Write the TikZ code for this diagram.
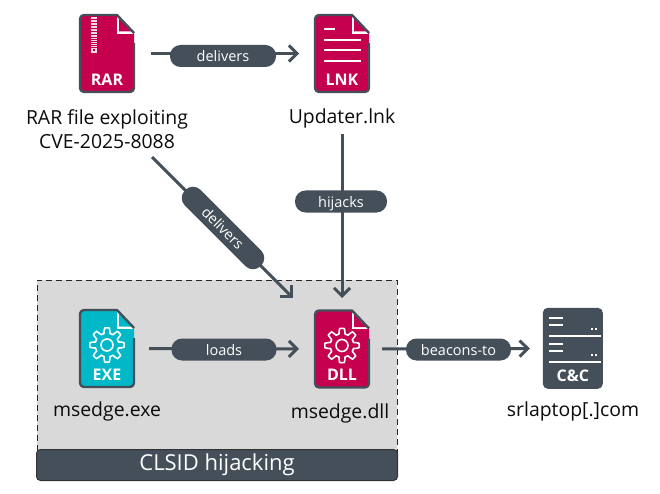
\documentclass[tikz,border=0pt]{standalone}
\usepackage{fontspec}
\setmainfont{Open Sans}
\usetikzlibrary{arrows.meta}
\definecolor{slate}{HTML}{444F5A}
\definecolor{crim}{HTML}{C5004F}
\definecolor{teal2}{HTML}{00B8C8}
\definecolor{boxgrey}{HTML}{D9D9D9}
\tikzset{
  x=1pt,y=-1pt,
  conn/.style={draw=slate,line width=3pt,-{Straight Barb[length=8pt,width=16pt,line width=3pt]}},
  pill/.style={fill=slate,text=white,rounded corners=10.5pt,minimum height=22pt,inner sep=0pt,font=\fontsize{14.5}{16}\selectfont,text depth=0pt,anchor=center},
  iconbox/.style={inner sep=0pt,outer sep=0pt,minimum width=54pt,minimum height=77pt},
  caption/.style={align=center,font=\fontsize{19.4}{24}\selectfont,text=black!85!slate,inner sep=0pt},
  icontext/.style={text=white,font=\fontsize{16}{16}\selectfont\bfseries,inner sep=0pt},
  white line/.style={draw=white,line width=1.7pt},
}
% #1 node name, #2 fill, #3 label, #4 extras
\newcommand\docicon[4]{%
  \begin{scope}[shift={(#1.north west)}]
    \path[fill=#2] (4,0) -- (37,0) -- (54,18) -- (54,73) arc[start angle=0,end angle=90,radius=4] -- (4,77) arc[start angle=90,end angle=180,radius=4] -- (0,4) arc[start angle=180,end angle=270,radius=4] -- cycle;
    \draw[white line] (37.5,1) -- (37.5,18) -- (53,18);
    \path[fill=white] (37,0) -- (54,18) -- (39,18) -- (38,17) -- cycle;
    \path[fill=#2] (39,2.5) -- (52,16.5) -- (39,16.5) -- cycle;
    \draw[slate,line width=2.4pt,line join=round] (54,28) -- (54,73) arc[start angle=0,end angle=90,radius=4] -- (4,77) arc[start angle=90,end angle=180,radius=4] -- (0,4) arc[start angle=180,end angle=270,radius=4] -- (37,0) -- (54,18);
    \node[icontext] at (27,64.5) {#3};
    #4
  \end{scope}}
\newcommand\gearicon{%
  \draw[white line,line width=1.6pt,line join=round] plot[domain=0:360,samples=193,variable=\t]
    ({27+(14.5+2.7*min(1,max(-1,2*cos(8*\t))))*cos(\t)},{35+(14.5+2.7*min(1,max(-1,2*cos(8*\t))))*sin(\t)}) -- cycle;
  \draw[white line,line width=1.6pt] (27,35) circle[radius=6];}
\begin{document}
\begin{tikzpicture}
\useasboundingbox (0,0) rectangle (660,494);
\fill[white] (0,0) rectangle (660,494);
% group
\node[draw=black!85,line width=1.2pt,fill=boxgrey,inner sep=0pt,minimum width=360pt,minimum height=175pt,anchor=north west,dash pattern=on 6pt off 4pt] (group) at (36.5,279.5) {};
\node[fill=slate,draw=black!80,line width=1pt,rounded corners=4pt,text=white,minimum width=361pt,minimum height=31pt,inner sep=0pt,font=\fontsize{22}{24}\selectfont,anchor=north west] (title) at (36,449) {CLSID hijacking};
% icons
\node[iconbox] (rar) at (107,53.5) {};
\node[iconbox] (lnk) at (342,53.5) {};
\node[iconbox] (exe) at (107,348.5) {};
\node[iconbox] (dll) at (342,349) {};
\node[inner sep=0pt,minimum width=60pt,minimum height=81pt] (cc) at (573,348.5) {};
% captions
\node[caption] (rarcap) at (107,129.5) {RAR file exploiting\\CVE-2025-8088};
\node[caption] (lnkcap) at (342,118) {Updater.lnk};
\node[caption] (execap) at (107,411) {msedge.exe};
\node[caption] (dllcap) at (340,413) {msedge.dll};
\node[caption] (cccap) at (573,411) {srlaptop[.]com};
% connectors
\coordinate (diagA) at (152,157);
\coordinate (diagB) at (293,298);
\coordinate (vA) at (342,134);
\draw[conn,shorten <=17pt,shorten >=16pt] (rar.east) -- (lnk.west);
\draw[conn] (vA) -- (lnk |- diagB);
\draw[conn] (diagA) -- (diagB);
\draw[conn,shorten <=15pt,shorten >=16pt] (exe.east) -- (dll.west);
\draw[conn,shorten <=13pt,shorten >=13pt] (dll.east) -- (cc.west);
% pills
\node[pill,minimum width=106pt] (p1) at (223,56) {delivers};
\node[pill,minimum width=92pt] (p2) at (341,201.5) {hijacks};
\node[pill,minimum width=107pt,rotate=-45] (p3) at (223,228) {delivers};
\node[pill,minimum width=105pt] (p4) at (224,349.5) {loads};
\node[pill,minimum width=105pt] (p5) at (458.5,349.5) {beacons-to};
% file icons
\docicon{rar}{crim}{RAR}{%
  \fill[white!85!crim] (11,2) rectangle (17,20);
  \foreach \yy in {4,7,...,19}{\fill[crim] (11,\yy) rectangle (17,\yy+1);}
  \fill[white!85!crim] (11,20) rectangle (17,38);
  \foreach \yy in {22,24,...,32}{\fill[crim] (11,\yy) rectangle (17,\yy+0.8);}
  \fill[crim] (13,34) rectangle (15,36);
}
\docicon{lnk}{crim}{LNK}{%
  \foreach \yy/\xe in {14/20,25/46,35/46,46/46}{\draw[white line] (9,\yy) -- (\xe,\yy);}
}
\docicon{exe}{teal2}{EXE}{\gearicon}
\docicon{dll}{crim}{DLL}{\gearicon}
% C&C
\begin{scope}[shift={(cc.north west)}]
  \fill[slate] (0,0) [rounded corners=5pt] rectangle (60,81);
  \foreach \yy in {0,26}{
    \draw[white line] (6,10+\yy) -- (20,10+\yy);
    \draw[white line] (6,17+\yy) -- (20,17+\yy);
    \draw[white line] (6,28+\yy) -- (58,28+\yy);
    \fill[white] (48,20+\yy) rectangle (50,22.5+\yy);
    \fill[white] (52,20+\yy) rectangle (54,22.5+\yy);
  }
  \node[icontext] at (30,68) {C\&C};
\end{scope}
\end{tikzpicture}
\end{document}
